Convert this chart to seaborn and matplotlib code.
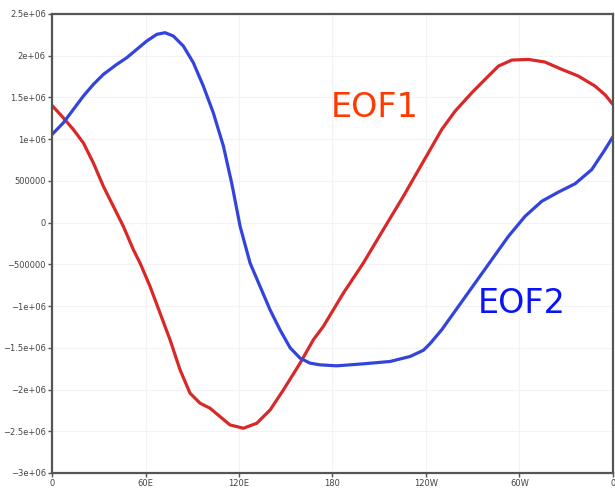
import numpy as np
import pandas as pd
import seaborn as sns
import matplotlib
matplotlib.use("Agg")
import matplotlib.pyplot as plt
from matplotlib.ticker import FuncFormatter

# values (longitude in degrees east, EOF value)
eof1_lon = [0, 7.25, 13.67, 20.09, 26.51, 32.93, 39.35, 45.76, 52.18, 56.48, 62.9, 69.32,
            75.74, 82.16, 88.57, 95, 101.4, 107.8, 114.2, 122.8, 131.4, 140, 148.5, 159.2,
            167.7, 174.1, 187, 199.8, 212.6, 225.5, 233, 241.5, 250.1, 258.7, 269.4, 277.9,
            286.5, 295.1, 305.7, 316.4, 327.2, 337.8, 348.5, 355, 360]
eof1_val = [1.404e6, 1.256e6, 1.116e6, 0.956e6, 0.716e6, 0.436e6, 0.196e6, -0.044e6,
            -0.324e6, -0.484e6, -0.764e6, -1.084e6, -1.404e6, -1.764e6, -2.044e6, -2.164e6,
            -2.224e6, -2.324e6, -2.424e6, -2.464e6, -2.404e6, -2.244e6, -2.004e6, -1.684e6,
            -1.404e6, -1.244e6, -0.844e6, -0.484e6, -0.084e6, 0.316e6, 0.56e6, 0.836e6,
            1.116e6, 1.336e6, 1.556e6, 1.716e6, 1.876e6, 1.948e6, 1.956e6, 1.924e6, 1.836e6,
            1.756e6, 1.636e6, 1.53e6, 1.416e6]

eof2_lon = [0, 7.25, 13.67, 20.09, 26.51, 32.93, 41.53, 47.95, 54.36, 60.78, 67.2, 72.53,
            77.86, 84.27, 90.69, 97.11, 103.5, 110, 115.5, 120.7, 127.1, 133.5, 139.9, 146.3,
            152.8, 159.2, 165.6, 172, 182.7, 199.8, 216.9, 229.8, 238.3, 242.6, 250.1, 260.8,
            271.5, 282.2, 292.9, 303.6, 314.3, 325, 335.7, 346.4, 354.9, 360]
eof2_val = [1.056e6, 1.196e6, 1.356e6, 1.516e6, 1.656e6, 1.776e6, 1.896e6, 1.976e6, 2.076e6,
            2.176e6, 2.256e6, 2.276e6, 2.236e6, 2.116e6, 1.916e6, 1.636e6, 1.316e6, 0.916e6,
            0.456e6, -0.044e6, -0.484e6, -0.764e6, -1.044e6, -1.284e6, -1.5e6, -1.624e6,
            -1.684e6, -1.704e6, -1.716e6, -1.692e6, -1.664e6, -1.604e6, -1.53e6, -1.45e6,
            -1.284e6, -1.004e6, -0.724e6, -0.444e6, -0.164e6, 0.076e6, 0.256e6, 0.366e6,
            0.466e6, 0.636e6, 0.876e6, 1.03e6]

xtick_pos = [0, 60, 120, 180, 240, 300, 360]
xtick_labels = ["0", "60E", "120E", "180", "120W", "60W", "0"]
ytick_pos = np.arange(-3e6, 2.5e6 + 1, 5e5)

df1 = pd.DataFrame({"lon": eof1_lon, "val": eof1_val})
df2 = pd.DataFrame({"lon": eof2_lon, "val": eof2_val})

sns.set_theme(style="white")
plt.rcParams["font.family"] = ["DejaVu Sans"]

fig = plt.figure(figsize=(6.15, 4.91), dpi=100)
ax = fig.add_axes([0.0846, 0.0367, 0.9121, 0.9348])

sns.lineplot(data=df1, x="lon", y="val", color="#d92828", linewidth=2.3, ax=ax)
sns.lineplot(data=df2, x="lon", y="val", color="#3344dd", linewidth=2.3, ax=ax)

ax.set_xlim(0, 360)
ax.set_ylim(-3e6, 2.5e6)
ax.set_xticks(xtick_pos)
ax.set_xticklabels(xtick_labels)
ax.set_yticks(ytick_pos)
ax.yaxis.set_major_formatter(FuncFormatter(lambda v, p: ("%g" % v).replace("-", "\u2212")))
ax.set_xlabel("")
ax.set_ylabel("")
ax.grid(True, color="#f3f3f3", linewidth=0.8)
ax.tick_params(axis="both", labelsize=6, direction="out", length=3, width=1,
               color="#555555", labelcolor="#444444", pad=1.5)
ax.tick_params(left=True, bottom=True)
for s in ax.spines.values():
    s.set_color("#555555")
    s.set_linewidth(1.6)

ax.text(0.576, 0.797, "EOF1", transform=ax.transAxes, color="#ff3a00", fontsize=24,
        ha="center", va="center")
ax.text(0.838, 0.370, "EOF2", transform=ax.transAxes, color="#0a14f5", fontsize=24,
        ha="center", va="center")

plt.savefig("out.png", dpi=100)
